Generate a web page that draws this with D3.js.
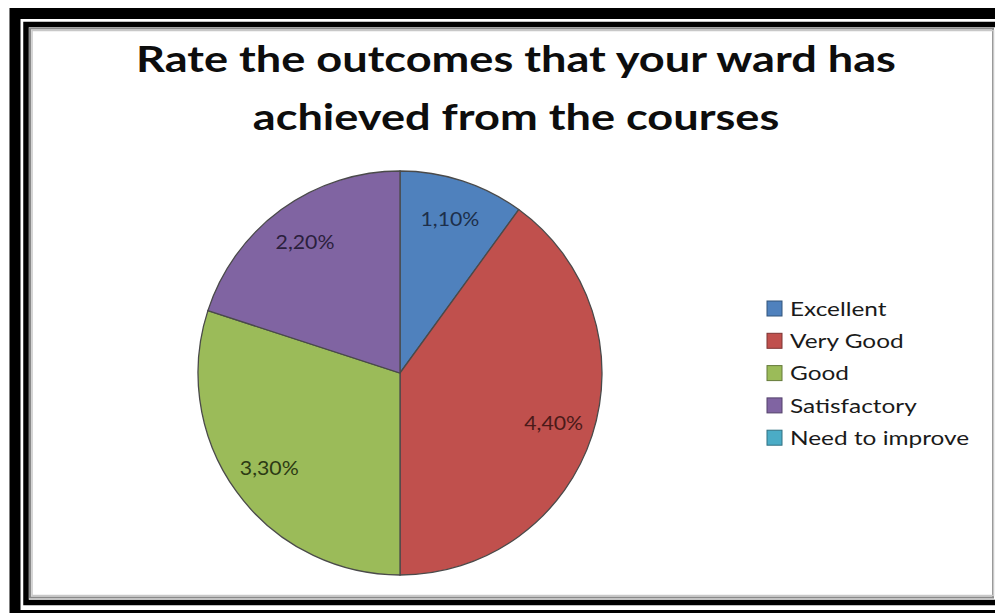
<!DOCTYPE html>
<html>
<head>
<meta charset="utf-8">
<script src="https://cdn.jsdelivr.net/npm/d3@7"></script>
<style>
  html, body { margin: 0; padding: 0; background: #fff; }
  svg { display: block; }
</style>
</head>
<body>
<div id="chart"></div>
<script>
// podaci
const categories = ["Excellent", "Very Good", "Good", "Satisfactory", "Need to improve"];
const counts     = [1, 4, 3, 2, 0];
const percents   = [10, 40, 30, 20, 0];
const colors     = ["#4F81BD", "#C0504D", "#9BBB59", "#8064A2", "#4BACC6"];
const labelInk   = ["#1d2f4a", "#4a1a19", "#2c3a14", "#2b1f3d", "#1b3d47"];
const titleLines = ["Rate the outcomes that your ward has", "achieved from the courses"];

const W = 995, H = 613;
const stretch = 1.22;   // slika je malo razvučena vodoravno

const svg = d3.select("#chart")
  .append("svg")
  .attr("width", W)
  .attr("height", H);

svg.append("rect").attr("width", W).attr("height", H).attr("fill", "#fff");

// okvir (dvostruka crna linija)
svg.append("rect")
  .attr("x", 15).attr("y", 13.5)
  .attr("width", 1000).attr("height", 602)
  .attr("fill", "none").attr("stroke", "#000").attr("stroke-width", 11);

svg.append("rect")
  .attr("x", 26).attr("y", 24.5)
  .attr("width", 990).attr("height", 578)
  .attr("fill", "none").attr("stroke", "#000").attr("stroke-width", 5.5);

svg.append("rect")
  .attr("x", 30).attr("y", 28.5)
  .attr("width", 963).attr("height", 569)
  .attr("fill", "none").attr("stroke", "#8a8a8a").attr("stroke-width", 2);

svg.append("rect")
  .attr("x", 32).attr("y", 30.5)
  .attr("width", 961.5).attr("height", 565)
  .attr("fill", "none").attr("stroke", "#c8c8c8").attr("stroke-width", 1.5);

// naslov
const title = svg.append("g")
  .attr("transform", `translate(516,0) scale(${stretch},1)`)
  .append("text")
  .attr("text-anchor", "middle")
  .style("font-family", "Lato, 'Open Sans', sans-serif")
  .style("font-weight", "bold")
  .style("font-size", "37px")
  .style("fill", "#0d0d0d");

title.selectAll("tspan")
  .data(titleLines)
  .enter()
  .append("tspan")
  .attr("x", 0)
  .attr("y", (d, i) => 72 + i * 58)
  .text(d => d);

// pita
const data = categories.map((c, i) => ({ cat: c, count: counts[i], pct: percents[i] }));
const cx = 400, cy = 373, radius = 202;

const pie = d3.pie().value(d => d.pct).sort(null);
const arc = d3.arc().innerRadius(0).outerRadius(radius);
const labelArc = d3.arc().innerRadius(radius * 0.8).outerRadius(radius * 0.8);

const color = d3.scaleOrdinal().domain(categories).range(colors);
const ink = d3.scaleOrdinal().domain(categories).range(labelInk);

const g = svg.append("g").attr("transform", `translate(${cx},${cy})`);

const slices = pie(data).filter(d => d.data.pct > 0);

g.selectAll(".slice")
  .data(slices)
  .enter()
  .append("path")
  .attr("class", "slice")
  .attr("d", arc)
  .attr("fill", d => color(d.data.cat))
  .attr("stroke", "#4a4a4a")
  .attr("stroke-width", 1.3);

g.selectAll(".lbl")
  .data(slices)
  .enter()
  .append("text")
  .attr("class", "lbl")
  .attr("transform", d => `translate(${labelArc.centroid(d)}) scale(1.12,1)`)
  .attr("text-anchor", "middle")
  .attr("dy", "0.35em")
  .style("font-family", "Lato, 'Open Sans', sans-serif")
  .style("font-size", "19px")
  .style("fill", d => ink(d.data.cat))
  .text(d => `${d.data.count},${d.data.pct}%`);

// legenda
const legend = svg.append("g").attr("transform", "translate(767,301)");
const rowH = 32.3;

const items = legend.selectAll(".item")
  .data(categories)
  .enter()
  .append("g")
  .attr("class", "item")
  .attr("transform", (d, i) => `translate(0,${i * rowH})`);

items.append("rect")
  .attr("width", 15).attr("height", 15)
  .attr("fill", d => color(d))
  .attr("stroke", d => d3.color(color(d)).darker(1.2))
  .attr("stroke-width", 1);

items.append("text")
  .attr("transform", `translate(23,7.5) scale(${stretch},1)`)
  .attr("dy", "0.36em")
  .style("font-family", "Lato, 'Open Sans', sans-serif")
  .style("font-size", "20px")
  .style("fill", "#1a1a1a")
  .text(d => d);
</script>
</body>
</html>
